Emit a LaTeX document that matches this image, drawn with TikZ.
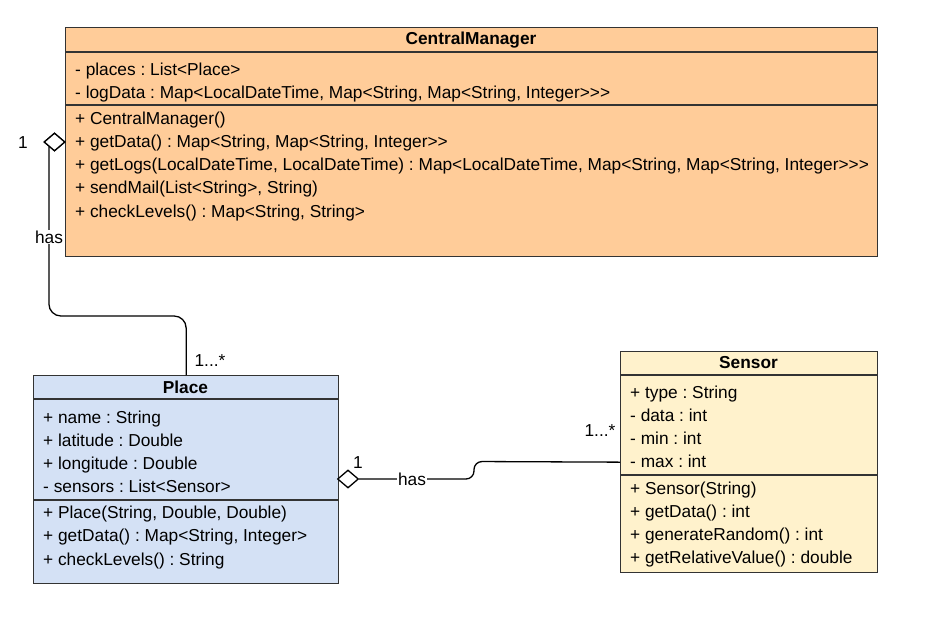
\documentclass[tikz,border=0pt]{standalone}
\usepackage{fontspec}
\setmainfont{Liberation Sans}[Ligatures=TeXOff]
\usetikzlibrary{shapes.geometric,calc}
\definecolor{cmfill}{HTML}{FFCC99}
\definecolor{plfill}{HTML}{D4E1F5}
\definecolor{snfill}{HTML}{FFF2CC}
\definecolor{linec}{HTML}{333333}
\frenchspacing
\begin{document}
\begin{tikzpicture}[x=1pt,y=-1pt,
  every node/.style={font=\fontsize{17.3}{20}\selectfont\frenchspacing},
  cls/.style={draw=linec, line width=1.3pt, anchor=north west, inner sep=0pt},
  sepl/.style={draw=linec, line width=1.3pt},
  mem/.style={anchor=base west, inner sep=0pt},
  ttl/.style={anchor=base, inner sep=0pt, font=\fontsize{17.3}{20}\selectfont\bfseries},
  conn/.style={draw=black, line width=1.3pt},
  agg/.style={diamond, draw=black, fill=white, line width=1.3pt, inner sep=0pt, minimum width=21pt, minimum height=18pt},
  lbl/.style={inner sep=1pt},
  lblw/.style={fill=white, inner sep=1pt}]
\useasboundingbox (0,0) rectangle (926,627);
% CentralManager
\node[cls, fill=cmfill, minimum width=812pt, minimum height=229pt] (cm) at (65,27) {};
\draw[sepl] ([yshift=-25pt]cm.north west) -- ([yshift=-25pt]cm.north east);
\draw[sepl] ([yshift=-78pt]cm.north west) -- ([yshift=-78pt]cm.north east);
\node[ttl] (cmt) at (471,44) {CentralManager};
\node[mem] (cm1) at (75,75) {- places : List<Place>};
\node[mem] (cm2) at (75,98) {- logData : Map<LocalDateTime, Map<String, Map<String, Integer>>>};
\node[mem] (cm3) at (75,124) {+ CentralManager()};
\node[mem] (cm4) at (75,147) {+ getData() : Map<String, Map<String, Integer>>};
\node[mem] (cm5) at (75,170) {+ getLogs(LocalDateTime, LocalDateTime) : Map<LocalDateTime, Map<String, Map<String, Integer>>>};
\node[mem] (cm6) at (75,193) {+ sendMail(List<String>, String)};
\node[mem] (cm7) at (75,217) {+ checkLevels() : Map<String, String>};
% Place
\node[cls, fill=plfill, minimum width=305pt, minimum height=208pt] (pl) at (33,375) {};
\draw[sepl] ([yshift=-24pt]pl.north west) -- ([yshift=-24pt]pl.north east);
\draw[sepl] ([yshift=-125pt]pl.north west) -- ([yshift=-125pt]pl.north east);
\node[ttl] (plt) at (185.5,393) {Place};
\node[mem] (pl1) at (43,423) {+ name : String};
\node[mem] (pl2) at (43,446) {+ latitude : Double};
\node[mem] (pl3) at (43,469) {+ longitude : Double};
\node[mem] (pl4) at (43,492) {- sensors : List<Sensor>};
\node[mem] (pl5) at (43,518) {+ Place(String, Double, Double)};
\node[mem] (pl6) at (43,541) {+ getData() : Map<String, Integer>};
\node[mem] (pl7) at (43,565) {+ checkLevels() : String};
% Sensor
\node[cls, fill=snfill, minimum width=257pt, minimum height=221pt] (sn) at (620,351) {};
\draw[sepl] ([yshift=-24pt]sn.north west) -- ([yshift=-24pt]sn.north east);
\draw[sepl] ([yshift=-124pt]sn.north west) -- ([yshift=-124pt]sn.north east);
\node[ttl] (snt) at (748.5,368) {Sensor};
\node[mem] (sn1) at (630,398) {+ type : String};
\node[mem] (sn2) at (630,421) {- data : int};
\node[mem] (sn3) at (630,444) {- min : int};
\node[mem] (sn4) at (630,467) {- max : int};
\node[mem] (sn5) at (630,494) {+ Sensor(String)};
\node[mem] (sn6) at (630,517) {+ getData() : int};
\node[mem] (sn7) at (630,540) {+ generateRandom() : int};
\node[mem] (sn8) at (630,563) {+ getRelativeValue() : double};
% helper coordinates
\coordinate (k1) at (0,316);
\coordinate (k2a) at (474,479);
\coordinate (k2b) at (474,461.5);
% connector CentralManager -- Place
\node[agg] (d1) at (54.5,142) {};
\draw[conn, rounded corners=12pt] (d1.south west) -- (d1.south west |- k1) -| (pl.north);
\node[agg] (d1b) at (54.5,142) {};
\node[lblw] (h1) at (49,237) {has};
\node[lbl] (m1) at (23,143) {1};
\node[lbl] (m2) at (210,361) {1...*};
% connector Place -- Sensor
\node[agg] (d2) at (348,479) {};
\draw[conn, rounded corners=8pt] (d2.east) -- (k2a) -- (k2b) -- (sn.west);
\node[lblw] (h2) at (412,479) {has};
\node[lbl] (m3) at (358,463) {1};
\node[lbl] (m4) at (600,431) {1...*};
\end{tikzpicture}
\end{document}
